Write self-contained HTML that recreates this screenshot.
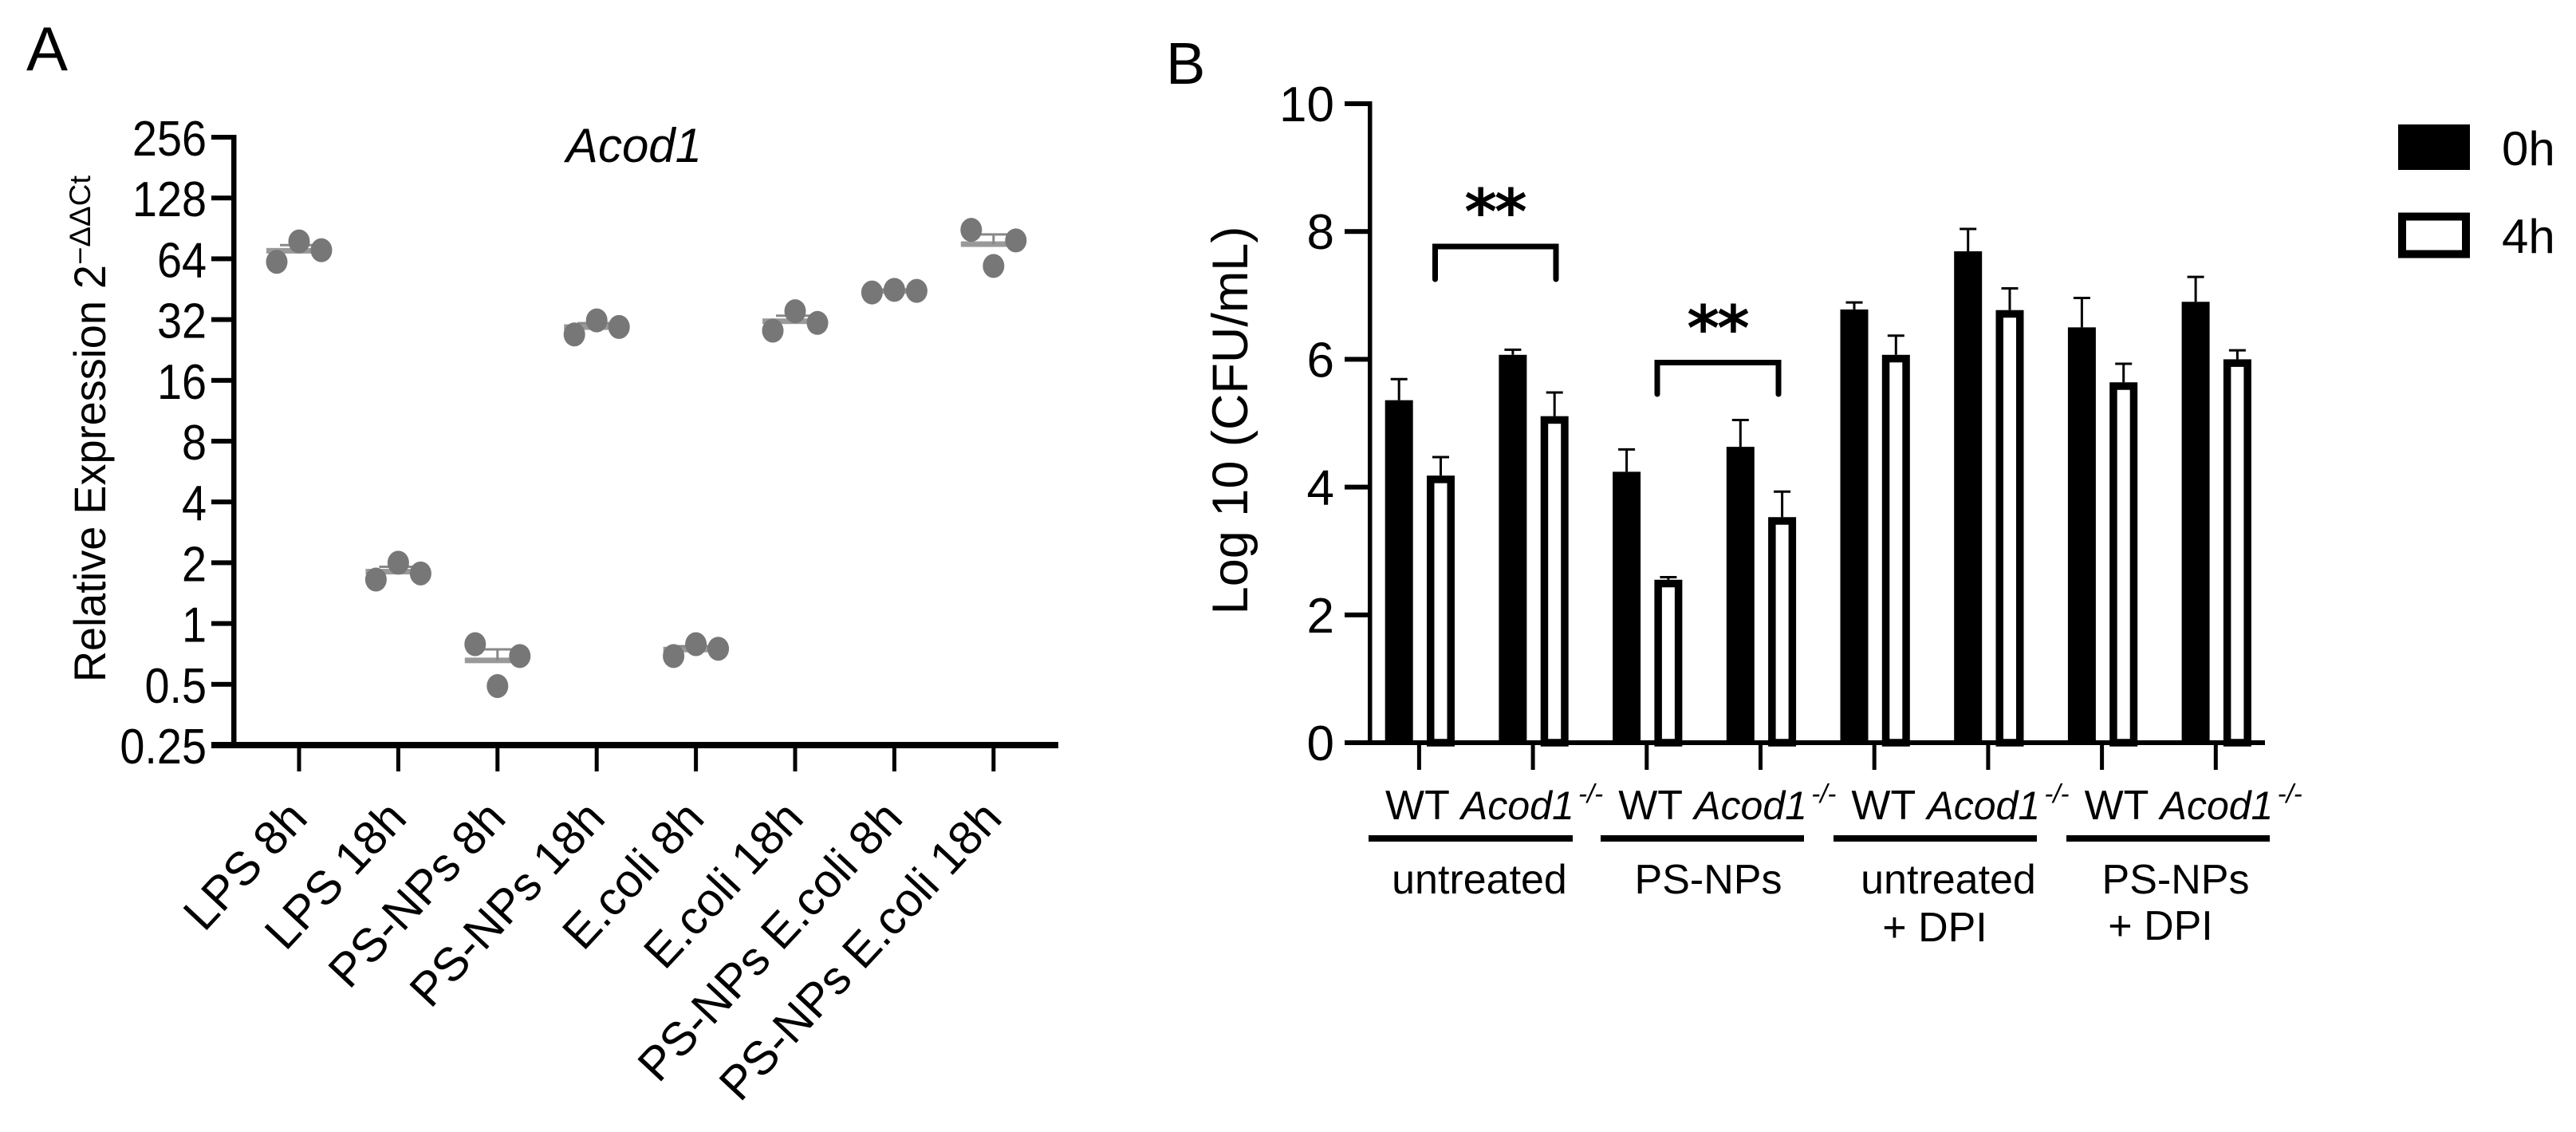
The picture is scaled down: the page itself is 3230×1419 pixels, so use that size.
<!DOCTYPE html>
<html lang="en">
<head>
<meta charset="utf-8">
<title>Acod1 expression and bacterial CFU</title>
<style>
html,body{margin:0;padding:0;background:#fff;}
svg{display:block;font-family:"Liberation Sans",Arial,sans-serif;fill:#000;}
</style>
</head>
<body>
<svg id="figure" xmlns="http://www.w3.org/2000/svg" width="3230" height="1419" viewBox="0 0 3230 1419">
<rect x="0" y="0" width="3230" height="1419" fill="#fff"/>
<text x="33" y="88" font-size="78">A</text>
<text x="1462" y="105" font-size="74">B</text>
<text x="795" y="203" font-size="60" font-style="italic" text-anchor="middle">Acod1</text>
<text transform="translate(132,855) rotate(-90)" font-size="56" textLength="523" lengthAdjust="spacingAndGlyphs">Relative Expression 2</text>
<text transform="translate(113,332) rotate(-90)" font-size="37" textLength="112" lengthAdjust="spacingAndGlyphs">−ΔΔCt</text>
<text transform="translate(1564,527) rotate(-90)" font-size="63" text-anchor="middle">Log 10 (CFU/mL)</text>
<g>
<rect x="3007" y="156" width="90" height="57" fill="#000"/>
<text x="3137" y="207" font-size="60">0h</text>
<rect x="3012" y="271.5" width="80" height="47" fill="#fff" stroke="#000" stroke-width="10"/>
<text x="3137" y="317" font-size="60">4h</text>
</g>
<g fill="none" stroke="#000" stroke-width="7" stroke-linecap="round">
<path d="M1799.5 350V309H1951V350"/>
<path d="M2078 494V454.5H2230V494"/>
</g>
<text x="1874" y="293" font-size="78" font-weight="bold" letter-spacing="-3" text-anchor="middle" style="font-family:'DejaVu Sans',sans-serif">**</text>
<text x="2153" y="439" font-size="78" font-weight="bold" letter-spacing="-3" text-anchor="middle" style="font-family:'DejaVu Sans',sans-serif">**</text>
<g fill="#000">
<rect x="1716" y="1047" width="256" height="8"/>
<rect x="2007" y="1047" width="255" height="8"/>
<rect x="2299" y="1047" width="255" height="8"/>
<rect x="2591" y="1047" width="255" height="8"/>
</g>
<text x="1855" y="1120" font-size="52" text-anchor="middle">untreated</text>
<text x="2142" y="1120" font-size="52" text-anchor="middle">PS-NPs</text>
<text x="2443" y="1120" font-size="52" text-anchor="middle">untreated</text>
<text x="2426" y="1180" font-size="52" text-anchor="middle">+ DPI</text>
<text x="2728" y="1120" font-size="52" text-anchor="middle">PS-NPs</text>
<text x="2709" y="1178" font-size="52" text-anchor="middle">+ DPI</text>
</svg>
<script>
// Panel A data
const categoriesA = ['LPS 8h','LPS 18h','PS-NPs 8h','PS-NPs 18h','E.coli 8h','E.coli 18h','PS-NPs E.coli 8h','PS-NPs E.coli 18h'];
const replicateLeft = [61.8,1.65,0.79,27,0.69,28.2,43.6,89];
const replicateCenter = [78,2.0,0.49,31.7,0.79,35.2,44.9,59];
const replicateRight = [70.6,1.77,0.69,29.4,0.75,30.8,44.4,78.9];
const ticksA = [0.25,0.5,1,2,4,8,16,32,64,128,256];

// Panel B data
const categoriesB = ['WT','Acod1','WT','Acod1','WT','Acod1','WT','Acod1'];
const bars0h = [5.36,6.07,4.24,4.63,6.78,7.69,6.50,6.90];
const errors0h = [0.33,0.08,0.35,0.42,0.11,0.35,0.46,0.39];
const bars4h = [4.18,5.11,2.55,3.53,6.07,6.77,5.64,6.00];
const errors4h = [0.29,0.37,0.04,0.40,0.30,0.34,0.29,0.14];
const ticksB = [0,2,4,6,8,10];

const svg = document.getElementById('figure');
const NS = 'http://www.w3.org/2000/svg';
function make(tag, attrs, parent, txt) {
  const node = document.createElementNS(NS, tag);
  for (const k in attrs) node.setAttribute(k, attrs[k]);
  if (txt !== undefined) node.textContent = txt;
  parent.appendChild(node);
  return node;
}

// Panel A axis functions
function yA(v) { return 934 - Math.log2(v / 0.25) * 76.2; }
function xA(i) { return 375 + i * 124.4; }
// Panel B axis functions
function yB(v) { return 931 - v * 80.1; }
function xB(i) { return 1779.4 + i * 142.7; }

let el;
el = make('rect', {x:290, y:yA(256)-3, width:6.5, height:yA(0.25)-yA(256)+6, fill:'#000'}, svg);


el = make('rect', {x:265, y:yA(0.25)-4, width:1062, height:8, fill:'#000'}, svg);



ticksA.forEach(function (t) {
  el = make('rect', {x:265, y:yA(t)-3, width:28, height:6, fill:'#000'}, svg);
  
  
  el = make('text', {transform:'translate(259,' + (yA(t)+23) + ') scale(0.9,1)', 'font-size':62, 'text-anchor':'end'}, svg, String(t));
  
  
});

categoriesA.forEach(function (c, i) {
  const cx = xA(i);
  const vals = [replicateLeft[i], replicateCenter[i], replicateRight[i]];
  const mean = (vals[0] + vals[1] + vals[2]) / 3;
  const sd = Math.sqrt(vals.reduce(function (s, v) { return s + (v - mean) * (v - mean); }, 0) / 2);
  const sem = sd / Math.sqrt(3);

  el = make('rect', {x:cx-2.5, y:934, width:5, height:33, fill:'#000'}, svg);
  
  

  el = make('text', {transform:'translate(' + (cx+13) + ',1028) rotate(-47)', 'font-size':59, 'text-anchor':'end'}, svg, c);
  
  

  el = make('rect', {x:cx-41, y:yA(mean)-3.5, width:76, height:7, fill:'#999'}, svg);
  
  
  el = make('line', {x1:cx, x2:cx, y1:yA(mean+sem), y2:yA(mean), stroke:'#888', 'stroke-width':3}, svg);
  
  
  el = make('line', {x1:cx-24, x2:cx+24, y1:yA(mean+sem), y2:yA(mean+sem), stroke:'#888', 'stroke-width':3}, svg);
  
  

  vals.forEach(function (v, j) {
    el = make('ellipse', {cx:cx+(j-1)*28, cy:yA(v), rx:13.5, ry:15, fill:'#777'}, svg);
    
    
  });
});

// Panel B
el = make('rect', {x:1715, y:yB(10)-3, width:5.5, height:yB(0)-yB(10)+6, fill:'#000'}, svg);



ticksB.forEach(function (t) {
  el = make('rect', {x:1686, y:yB(t)-3, width:30, height:6, fill:'#000'}, svg);
  
  
  el = make('text', {transform:'translate(1673,' + (yB(t)+22) + ')', 'font-size':62, 'text-anchor':'end'}, svg, String(t));
  
  
});

const BAR_W = 35;
const STROKE_4H = 9.5;
categoriesB.forEach(function (c, i) {
  const tx = xB(i);
  const x0 = tx - 25.2;
  const x4 = tx + 27.1;

  // 0h error bar
  el = make('line', {x1:x0, x2:x0, y1:yB(bars0h[i]), y2:yB(bars0h[i]+errors0h[i]), stroke:'#000', 'stroke-width':3}, svg);
  
  
  el = make('line', {x1:x0-10.5, x2:x0+10.5, y1:yB(bars0h[i]+errors0h[i]), y2:yB(bars0h[i]+errors0h[i]), stroke:'#000', 'stroke-width':3}, svg);
  
  
  // 0h bar
  el = make('rect', {x:x0-BAR_W/2, y:yB(bars0h[i]), width:BAR_W, height:yB(0)-yB(bars0h[i]), fill:'#000'}, svg);
  
  

  // 4h error bar
  el = make('line', {x1:x4, x2:x4, y1:yB(bars4h[i]), y2:yB(bars4h[i]+errors4h[i]), stroke:'#000', 'stroke-width':3}, svg);
  
  
  el = make('line', {x1:x4-10.5, x2:x4+10.5, y1:yB(bars4h[i]+errors4h[i]), y2:yB(bars4h[i]+errors4h[i]), stroke:'#000', 'stroke-width':3}, svg);
  
  
  // 4h bar
  el = make('rect', {x:x4-BAR_W/2+STROKE_4H/2, y:yB(bars4h[i])+STROKE_4H/2, width:BAR_W-STROKE_4H, height:yB(0)-yB(bars4h[i])-STROKE_4H/2, fill:'#fff', stroke:'#000', 'stroke-width':STROKE_4H}, svg);
  
  

  // x tick
  el = make('rect', {x:tx-2.5, y:931, width:5, height:34, fill:'#000'}, svg);
  
  

  // genotype label
  const isKO = (i % 2 === 1);
  const setX = 1737 + Math.floor(i / 2) * 292.2;
  if (!isKO) {
    el = make('text', {x:setX, y:1027, 'font-size':52}, svg, c);
    
    
  } else {
    el = make('text', {x:setX+95, y:1027, 'font-size':50, 'font-style':'italic'}, svg, c);
    
    
    el = make('text', {x:setX+242, y:1006, 'font-size':33, 'font-style':'italic'}, svg, '-/-');
    
    
  }
});

el = make('rect', {x:1686, y:yB(0)-3, width:1154, height:6, fill:'#000'}, svg);


</script>
</body>
</html>
